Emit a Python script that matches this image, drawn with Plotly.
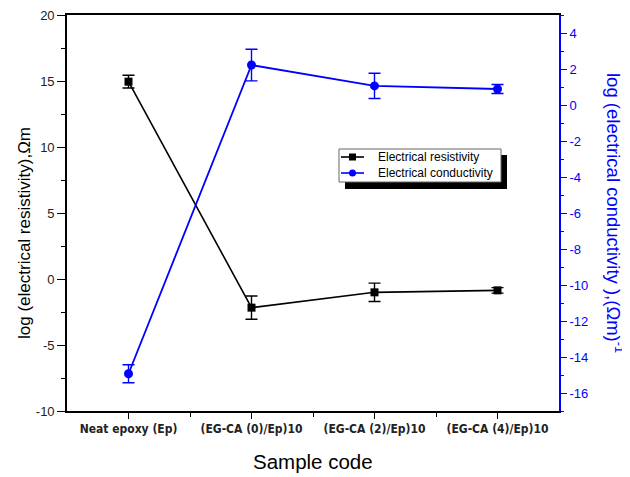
import plotly.graph_objects as go

categories = ["Neat epoxy (Ep)", "(EG-CA (0)/Ep)10", "(EG-CA (2)/Ep)10", "(EG-CA (4)/Ep)10"]
x_pos = [1, 2, 3, 4]
resistivity = [14.95, -2.17, -1.01, -0.86]
resistivity_err = [0.48, 0.88, 0.70, 0.21]
conductivity = [-14.93, 2.22, 1.06, 0.89]
conductivity_err = [0.50, 0.88, 0.70, 0.25]
left_ticks = [-10, -5, 0, 5, 10, 15, 20]
right_ticks = [-16, -14, -12, -10, -8, -6, -4, -2, 0, 2, 4]
series_names = ["Electrical resistivity", "Electrical conductivity"]

BLUE = "#0000FF"
fig = go.Figure()
fig.add_trace(go.Scatter(
    x=x_pos, y=resistivity, name=series_names[0], mode="lines+markers",
    line=dict(color="black", width=1.6), marker=dict(symbol="square", size=8, color="black"),
    error_y=dict(type="data", array=resistivity_err, color="black", thickness=1.4, width=6),
    yaxis="y", showlegend=False))
fig.add_trace(go.Scatter(
    x=x_pos, y=conductivity, name=series_names[1], mode="lines+markers",
    line=dict(color=BLUE, width=1.8), marker=dict(symbol="circle", size=9, color=BLUE),
    error_y=dict(type="data", array=conductivity_err, color=BLUE, thickness=1.4, width=6),
    yaxis="y2", showlegend=False))

# the page body has an 8px default margin; figure is sized to fit the window
OFF = 8
W, H = 630 - OFF, 477 - OFF
PL, PT, PR, PB = 67, 15, 559, 411          # plot area in window pixels
L, T = PL - OFF, PT - OFF
pw, ph = PR - PL, PB - PT
R, B = W - L - pw, H - T - ph

def px(x):
    return (x - PL) / pw

def py(y):
    return (PB - y) / ph

shapes = [
    dict(type="rect", xref="paper", yref="paper", x0=px(345), x1=px(507), y0=py(189), y1=py(155),
         fillcolor="black", line=dict(width=0), layer="above"),
    dict(type="rect", xref="paper", yref="paper", x0=px(339), x1=px(501), y0=py(182), y1=py(149),
         fillcolor="white", line=dict(width=1, color="#666666"), layer="above"),
]
legend_rows = [(157, "black", "square"), (173, BLUE, "circle")]
annotations = []
for (ry, col, sym), name in zip(legend_rows, series_names):
    shapes.append(dict(type="line", xref="paper", yref="paper", x0=px(341), x1=px(364),
                       y0=py(ry), y1=py(ry), line=dict(color=col, width=1.6), layer="above"))
    shapes.append(dict(type="rect" if sym == "square" else "circle", xref="paper", yref="paper",
                       xsizemode="pixel", ysizemode="pixel", xanchor=px(352.5), yanchor=py(ry),
                       x0=-3.5, x1=3.5, y0=-3.5, y1=3.5,
                       fillcolor=col, line=dict(width=0), layer="above"))
    annotations.append(dict(text=name, xref="paper", yref="paper", x=px(376), y=py(ry),
                            xanchor="left", yanchor="middle", showarrow=False,
                            font=dict(size=12, color="black")))

annotations.append(dict(text="log (electrical conductivity ),(Ωm)<sup>-1</sup>", textangle=90,
                        xref="paper", yref="paper", x=px(615), y=py(213),
                        xanchor="center", yanchor="middle", showarrow=False,
                        font=dict(size=18.5, color=BLUE)))
annotations.append(dict(text="log (electrical resistivity),Ωm", textangle=-90,
                        xref="paper", yref="paper", x=px(24), y=py(233),
                        xanchor="center", yanchor="middle", showarrow=False,
                        font=dict(size=17, color="black")))
annotations.append(dict(text="Sample code", xref="paper", yref="paper", x=px(313), y=py(461),
                        xanchor="center", yanchor="middle", showarrow=False,
                        font=dict(size=20.5, color="black")))

fig.update_layout(
    width=W, height=H, margin=dict(l=L, r=R, t=T, b=B, autoexpand=False),
    paper_bgcolor="white", plot_bgcolor="white",
    font=dict(family="Arial, Liberation Sans, sans-serif", color="black"),
    showlegend=False,
    xaxis=dict(range=[0.5, 4.5], tickmode="array", tickvals=x_pos, ticktext=categories,
               showline=True, linecolor="black", linewidth=1.6, mirror=True, automargin=False,
               ticks="outside", ticklen=6, tickwidth=1.4, tickcolor="black",
               minor=dict(tickvals=[1.5, 2.5, 3.5], ticks="outside", ticklen=4, tickwidth=1.4, tickcolor="black"),
               showgrid=False, zeroline=False,
               tickfont=dict(family="Liberation Sans Narrow, DejaVu Sans Condensed, Arial Narrow, sans-serif",
                             size=12, color="#222222", weight="bold")),
    yaxis=dict(range=[-10, 20], tickmode="array", tickvals=left_ticks, ticktext=[str(v) for v in left_ticks],
               showline=True, linecolor="black", linewidth=1.6, automargin=False,
               ticks="outside", ticklen=8, tickwidth=1.4, tickcolor="black", ticklabeloverflow="allow",
               minor=dict(dtick=2.5, ticks="outside", ticklen=4, tickwidth=1.4, tickcolor="black"),
               showgrid=False, zeroline=False,
               tickfont=dict(size=13, color="#222222")),
    yaxis2=dict(range=[-17, 5], tickmode="array", tickvals=right_ticks, ticktext=[str(v) for v in right_ticks],
                overlaying="y", side="right", showline=True, automargin=False, ticklabeloverflow="allow",
                linecolor=BLUE, linewidth=1.6, ticks="outside", ticklen=6, tickwidth=1.4, tickcolor=BLUE,
                minor=dict(dtick=1, ticks="outside", ticklen=3, tickwidth=1.4, tickcolor=BLUE),
                showgrid=False, zeroline=False, tickfont=dict(size=13, color=BLUE)),
    shapes=shapes,
    annotations=annotations,
)

fig.write_html("out.html")
